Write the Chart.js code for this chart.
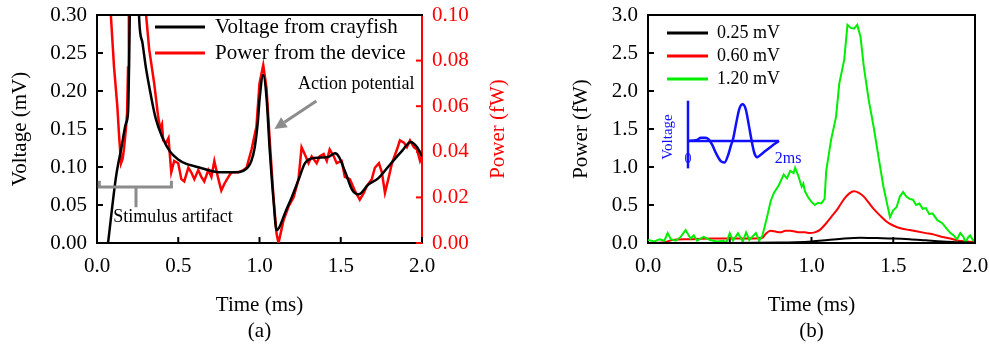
<!DOCTYPE html>
<html><head><meta charset="utf-8">
<script src="https://cdn.jsdelivr.net/npm/chart.js@4.4.1/dist/chart.umd.min.js"></script>
<style>
html,body{margin:0;padding:0;background:#fff;}
#wrap{position:relative;width:989px;height:349px;overflow:hidden;background:#fff;}
#ca{position:absolute;left:0;top:0;}
#cb{position:absolute;left:520px;top:0;}
</style></head><body>
<div id="wrap"><canvas id="ca" width="520" height="349"></canvas><canvas id="cb" width="469" height="349"></canvas></div>
<script>
// ---------- Panel (a) data ----------
const aVoltageTime = [0.068,0.117,0.150,0.179,0.191,0.215,0.240,0.260,0.280,0.300,0.330,0.360,0.400,0.450,0.500,0.550,0.600,0.650,0.700,0.750,0.800,0.850,0.900,0.930,0.950,0.970,0.990,1.000,1.023,1.043,1.063,1.086,1.105,1.120,1.156,1.200,1.240,1.280,1.340,1.420,1.465,1.490,1.530,1.570,1.610,1.670,1.730,1.810,1.880,1.930,1.970,2.000];
const aVoltageMV   = [0.000,0.087,0.125,0.158,0.172,0.450,0.450,0.293,0.263,0.232,0.196,0.165,0.140,0.120,0.110,0.104,0.101,0.098,0.095,0.093,0.093,0.093,0.095,0.100,0.108,0.125,0.160,0.188,0.221,0.192,0.122,0.057,0.017,0.020,0.039,0.061,0.083,0.105,0.112,0.113,0.118,0.113,0.092,0.070,0.064,0.077,0.085,0.105,0.122,0.133,0.126,0.114];
const aPowerTime = [0.000,0.070,0.086,0.105,0.125,0.136,0.148,0.158,0.167,0.178,0.185,0.191,0.196,0.210,0.285,0.302,0.321,0.352,0.377,0.390,0.400,0.407,0.426,0.440,0.457,0.475,0.500,0.519,0.537,0.562,0.580,0.599,0.623,0.642,0.660,0.685,0.704,0.722,0.747,0.765,0.784,0.809,0.827,0.846,0.870,0.901,0.920,0.951,0.981,1.000,1.023,1.043,1.063,1.086,1.105,1.117,1.148,1.179,1.210,1.240,1.259,1.278,1.302,1.321,1.352,1.370,1.395,1.414,1.432,1.457,1.475,1.506,1.525,1.556,1.586,1.617,1.642,1.660,1.691,1.710,1.735,1.753,1.772,1.796,1.815,1.846,1.864,1.889,1.907,1.926,1.950,1.969,1.988,2.000];
const aPowerFW   = [0.300,0.200,0.099,0.077,0.060,0.047,0.035,0.037,0.042,0.050,0.057,0.077,0.100,0.200,0.200,0.100,0.085,0.070,0.055,0.050,0.052,0.045,0.044,0.046,0.031,0.036,0.035,0.028,0.027,0.033,0.031,0.028,0.032,0.029,0.027,0.032,0.029,0.036,0.028,0.023,0.026,0.029,0.031,0.031,0.031,0.032,0.033,0.041,0.051,0.070,0.078,0.068,0.045,0.020,0.004,0.000,0.010,0.016,0.020,0.028,0.042,0.039,0.035,0.038,0.035,0.038,0.039,0.036,0.041,0.038,0.035,0.036,0.029,0.028,0.023,0.019,0.022,0.025,0.028,0.033,0.035,0.031,0.022,0.029,0.035,0.041,0.045,0.044,0.042,0.045,0.042,0.041,0.036,0.038];

// ---------- Panel (b) data ----------
const bTime025  = [0.0,0.5,0.8,0.9,1.0,1.1,1.2,1.3,1.4,1.5,1.6,1.7,1.8,1.9,2.0];
const bPower025 = [0.0,0.0,0.005,0.01,0.02,0.04,0.06,0.07,0.065,0.06,0.05,0.035,0.02,0.01,0.0];
const bTime060  = [0.00,0.10,0.15,0.25,0.40,0.55,0.65,0.70,0.72,0.75,0.78,0.81,0.84,0.87,0.90,0.93,0.96,0.99,1.02,1.05,1.09,1.12,1.16,1.20,1.23,1.26,1.29,1.32,1.35,1.38,1.42,1.46,1.50,1.55,1.60,1.65,1.70,1.75,1.80,1.85,1.90,1.95,2.00];
const bPower060 = [0.00,0.01,0.04,0.05,0.06,0.06,0.06,0.07,0.12,0.16,0.15,0.14,0.16,0.16,0.15,0.14,0.14,0.13,0.14,0.17,0.26,0.34,0.45,0.58,0.65,0.68,0.66,0.61,0.53,0.45,0.36,0.28,0.23,0.19,0.17,0.15,0.13,0.11,0.08,0.06,0.03,0.02,0.01];
const bTime120  = [0.00,0.04,0.07,0.10,0.12,0.14,0.17,0.20,0.23,0.26,0.28,0.30,0.34,0.38,0.42,0.46,0.48,0.50,0.52,0.55,0.58,0.60,0.62,0.66,0.68,0.70,0.73,0.75,0.77,0.80,0.83,0.85,0.87,0.89,0.90,0.92,0.94,0.95,0.96,0.98,1.00,1.02,1.04,1.06,1.08,1.09,1.12,1.15,1.17,1.20,1.22,1.24,1.26,1.28,1.30,1.32,1.35,1.38,1.41,1.44,1.48,1.50,1.52,1.54,1.56,1.58,1.60,1.62,1.64,1.66,1.68,1.70,1.72,1.74,1.77,1.80,1.83,1.85,1.87,1.89,1.91,1.93,1.94,1.96,1.97,1.99,2.00];
const bPower120 = [0.04,0.02,0.05,0.03,0.13,0.05,0.03,0.08,0.17,0.06,0.10,0.03,0.08,0.04,0.02,0.03,0.01,0.13,0.03,0.13,0.02,0.14,0.04,0.13,0.03,0.10,0.36,0.55,0.66,0.76,0.90,0.85,0.95,0.92,0.99,0.88,0.74,0.78,0.68,0.60,0.54,0.50,0.53,0.52,0.58,0.95,1.36,1.66,2.10,2.41,2.87,2.83,2.82,2.87,2.71,2.32,1.88,1.53,1.13,0.74,0.34,0.43,0.47,0.61,0.67,0.61,0.58,0.57,0.50,0.52,0.45,0.46,0.38,0.39,0.30,0.26,0.18,0.13,0.10,0.05,0.13,0.08,0.01,0.08,0.10,0.03,0.05];

// ---------- Inset (b): voltage waveform, time 0-2 ms, relative voltage ----------
const insetTime    = [0.00,0.20,0.28,0.38,0.46,0.53,0.62,0.72,0.80,0.88,0.95,0.99,1.06,1.13,1.20,1.27,1.34,1.40,1.46,1.52,1.58,1.70,1.85,2.00];
const insetVoltage = [0.00,0.03,0.09,0.09,0.04,-0.10,-0.35,-0.56,-0.60,-0.40,-0.10,0.05,0.50,0.90,1.02,0.88,0.42,0.00,-0.34,-0.45,-0.40,-0.28,-0.13,0.00];
const insetAxisTime = [0, 2];
const insetAxisVoltage = [-0.76, 1.12];

const zip = (xs, ys) => xs.map((x, i) => ({x, y: ys[i]}));
const FONT = "'Liberation Serif', 'Times New Roman', serif";
const RED = '#ff0000', GREEN = '#00ee00', BLUE = '#1010ff', GRAY = '#8c8c8c';

function fixV(w){ return s => { s.width = w; s.paddingTop = 0; s.paddingBottom = 0; s.paddingLeft = 0; s.paddingRight = 0; }; }
function fixH(h){ return s => { s.height = h; s.paddingTop = 0; s.paddingBottom = 0; s.paddingLeft = 0; s.paddingRight = 0; }; }

const tickMarks = {
  id: 'tickMarks',
  beforeDatasetsDraw(chart, args, opts) {
    const ctx = chart.ctx;
    (opts.list || []).forEach(s => {
      const sc = chart.scales[s.id];
      ctx.save(); ctx.strokeStyle = s.color; ctx.lineWidth = 2;
      sc.ticks.forEach(t => {
        const p = sc.getPixelForValue(t.value);
        ctx.beginPath();
        if (s.side === 'bottom') { ctx.moveTo(p, sc.top); ctx.lineTo(p, sc.top - s.len); }
        else if (s.side === 'left') { ctx.moveTo(sc.right, p); ctx.lineTo(sc.right + s.len, p); }
        else { ctx.moveTo(sc.left, p); ctx.lineTo(sc.left - s.len, p); }
        ctx.stroke();
      });
      ctx.restore();
    });
  }
};

const frame = {
  id: 'frame',
  afterDraw(chart, args, opts) {
    const {ctx, chartArea: a} = chart;
    ctx.save(); ctx.strokeStyle = '#000'; ctx.lineWidth = 2;
    ctx.beginPath();
    ctx.moveTo(a.left - 1, a.top); ctx.lineTo(a.right + 1, a.top);
    if (opts.right) { ctx.moveTo(a.right, a.top); ctx.lineTo(a.right, a.bottom); }
    ctx.stroke();
    // caption
    ctx.fillStyle = '#000'; ctx.font = '21px ' + FONT; ctx.textAlign = 'center'; ctx.textBaseline = 'middle';
    ctx.fillText(opts.caption, (a.left + a.right) / 2, 331);
    if (opts.rightTitle) {
      ctx.save();
      ctx.translate(opts.rightTitle.x, (a.top + a.bottom) / 2);
      ctx.rotate(-Math.PI / 2);
      ctx.fillStyle = opts.rightTitle.color; ctx.fillText(opts.rightTitle.text, 0, 0);
      ctx.restore();
    }
    ctx.restore();
  }
};

const lineLegend = {
  id: 'lineLegend',
  afterDraw(chart, args, o) {
    const {ctx, chartArea: a} = chart;
    ctx.save();
    ctx.font = o.size + 'px ' + FONT; ctx.textAlign = 'left'; ctx.textBaseline = 'middle';
    o.items.forEach((idx, i) => {
      const ds = chart.data.datasets[idx];
      const y = a.top + o.y0 + i * o.dy;
      ctx.strokeStyle = ds.borderColor; ctx.lineWidth = 3;
      ctx.beginPath(); ctx.moveTo(a.left + o.x0, y); ctx.lineTo(a.left + o.x1, y); ctx.stroke();
      ctx.fillStyle = '#000';
      ctx.fillText(ds.label, a.left + o.tx, y);
    });
    ctx.restore();
  }
};

// annotations for panel (a), anchored in data units
const bracket = {t0: 0.014, t1: 0.458, tm: 0.24, v: 0.0737, vTop: 0.082, vStem: 0.047};
const arrow = {t0: 1.35, v0: 0.187, t1: 1.092, v1: 0.150};
const annotA = {
  id: 'annotA',
  afterDatasetsDraw(chart) {
    const {ctx} = chart; const x = chart.scales.x, y = chart.scales.y;
    const X = v => x.getPixelForValue(v), Y = v => y.getPixelForValue(v);
    ctx.save();
    ctx.strokeStyle = GRAY; ctx.fillStyle = GRAY; ctx.lineWidth = 3;
    ctx.beginPath();
    ctx.moveTo(X(bracket.t0), Y(bracket.vTop)); ctx.lineTo(X(bracket.t0), Y(bracket.v));
    ctx.lineTo(X(bracket.t1), Y(bracket.v)); ctx.lineTo(X(bracket.t1), Y(bracket.vTop));
    ctx.moveTo(X(bracket.tm), Y(bracket.v)); ctx.lineTo(X(bracket.tm), Y(bracket.vStem));
    ctx.stroke();
    const x0 = X(arrow.t0), y0 = Y(arrow.v0), x1 = X(arrow.t1), y1 = Y(arrow.v1);
    const ang = Math.atan2(y1 - y0, x1 - x0), L = 12, W = 6;
    const bx = x1 - L * Math.cos(ang), by = y1 - L * Math.sin(ang);
    ctx.beginPath(); ctx.moveTo(x0, y0); ctx.lineTo(bx, by); ctx.stroke();
    ctx.beginPath(); ctx.moveTo(x1, y1);
    ctx.lineTo(bx + W * Math.sin(ang), by - W * Math.cos(ang));
    ctx.lineTo(bx - W * Math.sin(ang), by + W * Math.cos(ang));
    ctx.closePath(); ctx.fill();
    ctx.fillStyle = '#000'; ctx.font = '18px ' + FONT; ctx.textBaseline = 'middle';
    ctx.textAlign = 'left'; ctx.fillText('Stimulus artifact', X(0.10), Y(0.034));
    ctx.textAlign = 'center'; ctx.fillText('Action potential', X(1.595), Y(0.2086));
    ctx.restore();
  }
};

const insetText = {
  id: 'insetText',
  afterDatasetsDraw(chart) {
    const {ctx} = chart; const x = chart.scales.xi, y = chart.scales.yi;
    ctx.save(); ctx.fillStyle = BLUE; ctx.textBaseline = 'middle'; ctx.textAlign = 'center';
    ctx.font = '14px ' + FONT;
    ctx.fillText('0', x.getPixelForValue(0), y.getPixelForValue(-0.5));
    ctx.font = '16px ' + FONT;
    ctx.fillText('2ms', x.getPixelForValue(2.2), y.getPixelForValue(-0.5));
    ctx.font = '15px ' + FONT;
    ctx.translate(x.getPixelForValue(-0.44), y.getPixelForValue(0.11));
    ctx.rotate(-Math.PI / 2);
    ctx.fillText('Voltage', 0, 0);
    ctx.restore();
  }
};

const tickFont = {family: FONT, size: 21};

new Chart(document.getElementById('ca'), {
  type: 'line',
  data: {datasets: [
    {label: 'Voltage from crayfish', data: zip(aVoltageTime, aVoltageMV), borderColor: '#000', borderWidth: 2.5, pointRadius: 0, cubicInterpolationMode: 'monotone', yAxisID: 'y'},
    {label: 'Power from the device', data: zip(aPowerTime, aPowerFW), borderColor: RED, borderWidth: 2.5, pointRadius: 0, tension: 0, yAxisID: 'y2'}
  ]},
  options: {
    responsive: false, animation: false, devicePixelRatio: 1,
    layout: {padding: {top: 15, left: 0, right: 0, bottom: 0}},
    plugins: {
      legend: {display: false}, tooltip: {enabled: false},
      tickMarks: {list: [{id: 'x', side: 'bottom', len: 6, color: '#000'}, {id: 'y', side: 'left', len: 6, color: '#000'}, {id: 'y2', side: 'right', len: 6, color: RED}]},
      frame: {caption: '(a)', rightTitle: {text: 'Power (fW)', x: 498, color: RED}},
      lineLegend: {items: [0, 1], size: 21, x0: 58, x1: 108, tx: 118, y0: 12, dy: 26}
    },
    scales: {
      x: {type: 'linear', min: 0, max: 2, position: 'bottom',
          ticks: {stepSize: 0.5, callback: v => Number(v).toFixed(1), font: tickFont, color: '#000', padding: 11, maxRotation: 0, autoSkip: false},
          grid: {drawOnChartArea: false, drawTicks: false}, border: {color: '#000', width: 2},
          title: {display: true, text: 'Time (ms)', font: tickFont, color: '#000', padding: {top: 0, bottom: 31}},
          afterFit: fixH(106)},
      y: {type: 'linear', min: 0, max: 0.3, position: 'left',
          ticks: {stepSize: 0.05, callback: v => Number(v).toFixed(2), font: tickFont, color: '#000', padding: 10},
          grid: {drawOnChartArea: false, drawTicks: false}, border: {color: '#000', width: 2},
          title: {display: true, text: 'Voltage (mV)', font: tickFont, color: '#000', padding: {top: 8, bottom: 0}},
          afterFit: fixV(97)},
      y2: {type: 'linear', min: 0, max: 0.1, position: 'right',
          ticks: {stepSize: 0.02, callback: v => Number(v).toFixed(2), font: tickFont, color: RED, padding: 10},
          grid: {drawOnChartArea: false, drawTicks: false}, border: {color: RED, width: 2},
          afterFit: fixV(98)}
    }
  },
  plugins: [tickMarks, annotA, frame, lineLegend]
});

new Chart(document.getElementById('cb'), {
  type: 'line',
  data: {datasets: [
    {label: '0.25 mV', data: zip(bTime025, bPower025), borderColor: '#000', borderWidth: 2, pointRadius: 0, cubicInterpolationMode: 'monotone'},
    {label: '1.20 mV', data: zip(bTime120, bPower120), borderColor: GREEN, borderWidth: 2, pointRadius: 0, tension: 0},
    {label: '0.60 mV', data: zip(bTime060, bPower060), borderColor: RED, borderWidth: 2, pointRadius: 0, cubicInterpolationMode: 'monotone'},
    {label: 'inset', data: zip(insetTime, insetVoltage), borderColor: BLUE, borderWidth: 2.5, pointRadius: 0, cubicInterpolationMode: 'monotone', xAxisID: 'xi', yAxisID: 'yi'},
    {label: 'inset time axis', data: zip(insetAxisTime, [0, 0]), borderColor: BLUE, borderWidth: 2.5, pointRadius: 0, xAxisID: 'xi', yAxisID: 'yi'},
    {label: 'inset voltage axis', data: zip([0, 0], insetAxisVoltage), borderColor: BLUE, borderWidth: 2.5, pointRadius: 0, xAxisID: 'xi', yAxisID: 'yi'}
  ]},
  options: {
    responsive: false, animation: false, devicePixelRatio: 1,
    layout: {padding: {top: 15, left: 0, right: 14, bottom: 0}},
    plugins: {
      legend: {display: false}, tooltip: {enabled: false},
      tickMarks: {list: [{id: 'x', side: 'bottom', len: 6, color: '#000'}, {id: 'y', side: 'left', len: 6, color: '#000'}]},
      frame: {caption: '(b)', right: true},
      lineLegend: {items: [0, 2, 1], size: 18, x0: 19, x1: 60, tx: 69, y0: 18, dy: 23}
    },
    scales: {
      x: {type: 'linear', min: 0, max: 2, position: 'bottom',
          ticks: {stepSize: 0.5, callback: v => Number(v).toFixed(1), font: tickFont, color: '#000', padding: 11, maxRotation: 0, autoSkip: false},
          grid: {drawOnChartArea: false, drawTicks: false}, border: {color: '#000', width: 2},
          title: {display: true, text: 'Time (ms)', font: tickFont, color: '#000', padding: {top: 0, bottom: 31}},
          afterFit: fixH(106)},
      y: {type: 'linear', min: 0, max: 3, position: 'left',
          ticks: {stepSize: 0.5, callback: v => Number(v).toFixed(1), font: tickFont, color: '#000', padding: 10},
          grid: {drawOnChartArea: false, drawTicks: false}, border: {color: '#000', width: 2},
          title: {display: true, text: 'Power (fW)', font: tickFont, color: '#000', padding: {top: 49, bottom: 0}},
          afterFit: fixV(128)},
      xi: {type: 'linear', display: false, position: 'bottom', min: -0.879, max: 6.308},
      yi: {type: 'linear', display: false, position: 'left', min: -2.833, max: 3.5}
    }
  },
  plugins: [tickMarks, insetText, frame, lineLegend]
});
</script>
</body></html>
